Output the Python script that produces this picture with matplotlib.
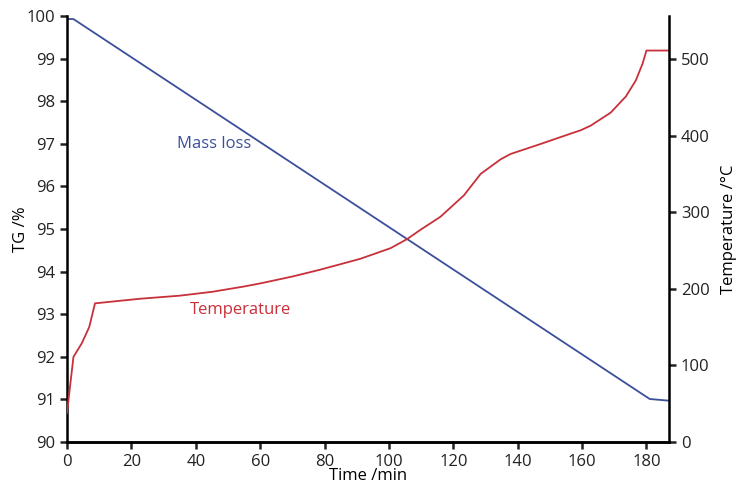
import matplotlib
matplotlib.use("Agg")
import matplotlib.pyplot as plt

plt.rcParams['font.family'] = ['Open Sans', 'DejaVu Sans']

# Mass loss (TG %) vs time
mass_time = [0, 2, 181, 187]
mass_tg = [99.93, 99.93, 91.01, 90.97]

# Temperature (°C) vs time
temp_time = [0, 2.0, 4.6, 6.9, 8.7, 22.7, 35, 45, 55, 60, 70, 78.7, 91, 100.5, 105.7,
             109.8, 116, 123.3, 128.5, 134.7, 137.8, 147.1, 153.3, 159.6, 162.7, 168.9,
             173.6, 176.7, 178.8, 180, 187]
temp_c = [38, 111, 129, 150, 181, 187, 191, 196, 203, 207, 216, 225, 239, 253, 265,
          277, 294, 322, 350, 369, 376, 389, 398, 407, 413, 430,
          451, 472, 494, 511, 511]

blue = '#3b4f9c'
red = '#c8303a'

fig = plt.figure(figsize=(7.42, 4.87), dpi=100)
ax = fig.add_axes([0.0903, 0.0924, 0.8113, 0.8746])
ax2 = ax.twinx()

ax.plot(mass_time, mass_tg, color=blue, lw=1.3)
ax2.plot(temp_time, temp_c, color=red, lw=1.3)

ax.set_xlim(0, 187)
ax.set_ylim(90, 100)
ax2.set_ylim(0, 556)
ax.set_xticks(range(0, 181, 20))
ax.set_yticks(range(90, 101, 1))
ax2.set_yticks(range(0, 501, 100))

for a in (ax, ax2):
    a.spines['top'].set_visible(False)
    for s in a.spines.values():
        s.set_linewidth(1.8)
    a.tick_params(direction='out', length=5, width=1.8, labelsize=12, colors='#222222')
ax2.spines['left'].set_visible(False)
ax.spines['right'].set_visible(False)

ax.set_xlabel('Time /min', fontsize=12, labelpad=-1)
ax.set_ylabel('TG /%', fontsize=12, labelpad=-2)
ax2.set_ylabel('Temperature /°C', fontsize=12, labelpad=8)

ax.text(34.2, 97.0, 'Mass loss', color=blue, fontsize=12, va='center', ha='left')
ax.text(38.3, 93.1, 'Temperature', color=red, fontsize=12, va='center', ha='left')

fig.savefig('out.png', dpi=100)
